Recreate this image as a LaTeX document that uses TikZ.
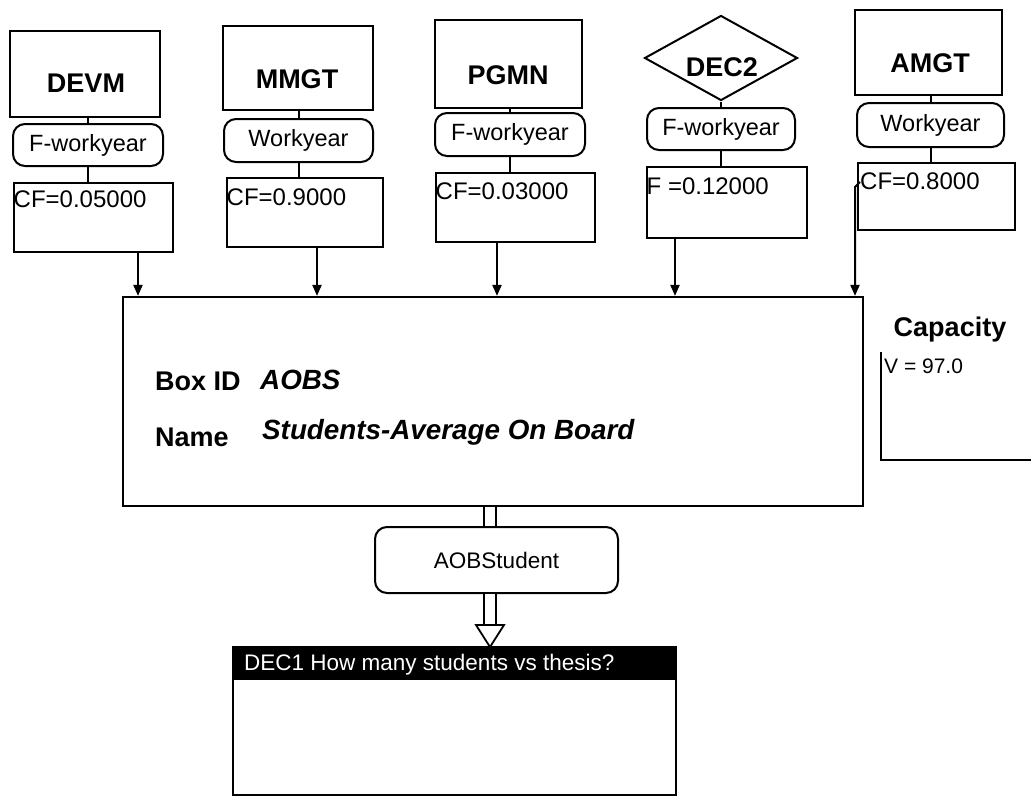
\documentclass[tikz,border=0pt]{standalone}
\usepackage{fontspec}
\setmainfont{Liberation Sans}
\usetikzlibrary{shapes.geometric,arrows.meta,calc}
\begin{document}
\begin{tikzpicture}[x=1pt,y=-1pt,
  ln/.style={line width=2pt},
  sqbox/.style={draw,ln,rectangle,inner sep=0pt},
  rbox/.style={draw,ln,rectangle,rounded corners=12pt,inner sep=0pt,font=\fontsize{23.5}{26}\selectfont},
  dia/.style={draw,ln,diamond,inner sep=0pt},
  bigtxt/.style={inner sep=0pt,font=\bfseries\fontsize{27}{30}\selectfont},
  cftxt/.style={inner sep=0pt,anchor=west,font=\fontsize{24}{27}\selectfont},
  lbl/.style={inner sep=0pt,anchor=west,font=\bfseries\fontsize{27}{30}\selectfont},
  lbli/.style={inner sep=0pt,anchor=west,font=\bfseries\itshape\fontsize{27.8}{30}\selectfont},
  conn/.style={ln},
  arr/.style={ln,-{Triangle[width=9pt,length=11pt]}},
  dbl/.style={line width=1.7pt,double,double distance=10.5pt}
]
\useasboundingbox (0,0) rectangle (1031,798);

% top boxes
\node[sqbox,minimum width=150pt,minimum height=86pt] (devm) at (85,74) {};
\node[bigtxt] (devmt) at (86,83) {DEVM};
\node[sqbox,minimum width=150pt,minimum height=84pt] (mmgt) at (298,68) {};
\node[bigtxt] (mmgtt) at (297,79) {MMGT};
\node[sqbox,minimum width=147pt,minimum height=88pt] (pgmn) at (508.5,64) {};
\node[bigtxt] (pgmnt) at (508,75) {PGMN};
\node[dia,minimum width=153pt,minimum height=85pt] (dec2) at (721,58) {};
\node[bigtxt] (dec2t) at (722,67) {DEC2};
\node[sqbox,minimum width=147pt,minimum height=85pt] (amgt) at (928.5,52.5) {};
\node[bigtxt] (amgtt) at (930,63) {AMGT};

% rounded
\node[rbox,minimum width=150pt,minimum height=42pt] (r1) at (88,145) {F-workyear};
\node[rbox,minimum width=149pt,minimum height=43pt] (r2) at (298.5,140.5) {Workyear};
\node[rbox,minimum width=150pt,minimum height=43pt] (r3) at (510,134.5) {F-workyear};
\node[rbox,minimum width=148pt,minimum height=42pt] (r4) at (721,129) {F-workyear};
\node[rbox,minimum width=147pt,minimum height=44pt] (r5) at (930.5,125) {Workyear};

% CF boxes
\node[sqbox,minimum width=159pt,minimum height=69pt] (c1) at (93.5,217.5) {};
\node[sqbox,minimum width=156pt,minimum height=69pt] (c2) at (305,212.5) {};
\node[sqbox,minimum width=159pt,minimum height=69pt] (c3) at (515.5,207.5) {};
\node[sqbox,minimum width=160pt,minimum height=71pt] (c4) at (727,202.5) {};
\node[sqbox,minimum width=157pt,minimum height=67pt] (c5) at (936.5,196.5) {};
\node[cftxt] (c1t) at ($(c1.north west)+(0.5,17)$) {CF=0.05000};
\node[cftxt] (c2t) at ($(c2.north west)+(0.5,20)$) {CF=0.9000};
\node[cftxt] (c3t) at ($(c3.north west)+(0.5,19)$) {CF=0.03000};
\node[cftxt] (c4t) at ($(c4.north west)+(0.5,20)$) {F =0.12000};
\node[cftxt] (c5t) at ($(c5.north west)+(3,19)$) {CF=0.8000};

% stack connectors
\draw[conn] (r1.north) -- (r1.north |- devm.south);
\draw[conn] (r1.south) -- (r1.south |- c1.north);
\draw[conn] (r2.north) -- (r2.north |- mmgt.south);
\draw[conn] (r2.south) -- (r2.south |- c2.north);
\draw[conn] (r3.north) -- (r3.north |- pgmn.south);
\draw[conn] (r3.south) -- (r3.south |- c3.north);
\draw[conn] (r4.north) -- (dec2.south);
\draw[conn] (r4.south) -- (r4.south |- c4.north);
\draw[conn] (r5.north) -- (r5.north |- amgt.south);
\draw[conn] (r5.south) -- (r5.south |- c5.north);

% main box
\node[sqbox,line width=2.2pt,minimum width=740pt,minimum height=209pt] (aobs) at (493,401.5) {};
\node[lbl] (boxid) at (155,381) {Box ID};
\node[lbli] (boxidv) at (260,380) {AOBS};
\node[lbl] (name) at (155,437) {Name};
\node[lbli] (namev) at (262,432) {Students-Average On Board};

% arrows into main box
\coordinate (a1) at (138,0);
\coordinate (a2) at (317,0);
\coordinate (a3) at (497,0);
\coordinate (a4) at (675,0);
\coordinate (a5) at (855,0);
\draw[arr] (c1.south -| a1) -- (a1 |- aobs.north);
\draw[arr] (c2.south -| a2) -- (a2 |- aobs.north);
\draw[arr] (c3.south -| a3) -- (a3 |- aobs.north);
\draw[arr] (c4.south -| a4) -- (a4 |- aobs.north);
\draw[arr] ($(c5.north west)+(3,20)$) -- ($(c5.north west -| a5)+(0,25)$) -- (a5 |- aobs.north);

% capacity
\node[inner sep=0pt,font=\bfseries\fontsize{27}{30}\selectfont] (cap) at (950,330) {Capacity};
\coordinate (captl) at (881,352);
\coordinate (capbr) at (1031,460);
\draw[ln] (captl) -- (captl |- capbr) -- (capbr);
\node[inner sep=0pt,anchor=west,font=\fontsize{21}{24}\selectfont] (capv) at (884,366) {V = 97.0};

% output
\node[rbox,minimum width=243pt,minimum height=66pt,font=\fontsize{22.5}{26}\selectfont] (aob) at (496.5,560) {AOBStudent};
\coordinate (tipc) at (490,647);
\draw[dbl] (aobs.south -| tipc) -- (aob.north -| tipc);
\draw[dbl] (aob.south -| tipc) -- ($(tipc)+(0,-22)$);
\draw[line width=1.8pt,fill=white] ($(tipc)+(-14,-22)$) -- ($(tipc)+(14,-22)$) -- (tipc) -- cycle;

% DEC1
\node[sqbox,minimum width=443pt,minimum height=148pt] (dec1) at (454.5,721) {};
\fill[black] (dec1.north west) rectangle ($(dec1.north east)+(0,34)$);
\node[inner sep=0pt,anchor=west,text=white,font=\fontsize{22.5}{26}\selectfont] (dec1t) at ($(dec1.north west)+(12,19)$) {DEC1 How many students vs thesis?};
\end{tikzpicture}
\end{document}
